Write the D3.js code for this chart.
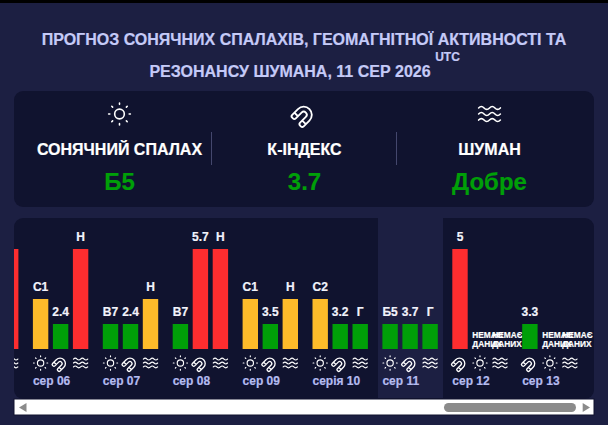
<!DOCTYPE html>
<html><head><meta charset="utf-8">
<script src="https://cdn.jsdelivr.net/npm/d3@7"></script>
<style>
html,body{margin:0;padding:0;background:#1c1f42;overflow:hidden}
svg{display:block}
text{font-family:"Liberation Sans",Arial,sans-serif;font-weight:700;stroke:currentColor;stroke-width:.2px}
</style></head><body>
<svg id="c" width="608" height="425"></svg>
<script>
const titleLines = ["ПРОГНОЗ СОНЯЧНИХ СПАЛАХІВ, ГЕОМАГНІТНОЇ АКТИВНОСТІ ТА", "РЕЗОНАНСУ ШУМАНА, 11 СЕР 2026"];
const utcLabel = "UTC";
const summaryIcons = ["sun", "magnet", "waves"];
const summaryTitles = ["СОНЯЧНИЙ СПАЛАХ", "К-ІНДЕКС", "ШУМАН"];
const summaryValues = ["Б5", "3.7", "Добре"];

const days = ["", "сер 06", "сер 07", "сер 08", "сер 09", "серія 10", "сер 11", "сер 12", "сер 13"];
const slots = ["a", "b", "c"];
const slotIcons = [
  ["sun","magnet","waves"],["sun","magnet","waves"],["sun","magnet","waves"],["sun","magnet","waves"],
  ["sun","magnet","waves"],["sun","magnet","waves"],["sun","magnet","waves"],["magnet","sun","waves"],["magnet","sun","waves"]
];
const slotLabels = [
  ["","",""],["C1","2.4","Н"],["B7","2.4","Н"],["B7","5.7","Н"],
  ["C1","3.5","Н"],["C2","3.2","Г"],["Б5","3.7","Г"],["5",null,null],["3.3",null,null]
];
const slotLevels = [
  [1,1,4],[2,1,4],[1,1,2],[1,4,4],[2,1,2],[2,1,1],[1,1,1],[4,null,null],[1,null,null]
];
const noData = ["НЕМАЄ","ДАНИХ"];

const colors = {bg:"#1c1f42", panel:"#10132f", title:"#c5caf7", day:"#b4bbef", green:"#009f08", yellow:"#fdbb2a", red:"#fd2d2f", sep:"#44476d"};
const levelColor = d3.scaleOrdinal().domain([1,2,4]).range([colors.green, colors.yellow, colors.red]);

const iconPaths = {
  sun:"M8 12a4 4 0 1 0 8 0a4 4 0 1 0 -8 0M3 12h1m8 -9v1m8 8h1m-9 8v1m-6.4 -15.4l.7 .7m12.1 -.7l-.7 .7m0 11.4l.7 .7m-12.1 -.7l-.7 .7",
  magnet:"M4 13v-8a2 2 0 0 1 2 -2h1a2 2 0 0 1 2 2v8a3 3 0 0 0 6 0v-8a2 2 0 0 1 2 -2h1a2 2 0 0 1 2 2v8a8 8 0 0 1 -16 0M4 8l5 0M15 8l5 0",
  waves:"M3 7q2.25 -2.4 4.5 0t4.5 0t4.5 0t4.5 0M3 12q2.25 -2.4 4.5 0t4.5 0t4.5 0t4.5 0M3 17q2.25 -2.4 4.5 0t4.5 0t4.5 0t4.5 0"
};

const svg = d3.select("#c");
svg.append("rect").attr("width",608).attr("height",3).attr("fill","#000");

const title = svg.append("g").attr("text-anchor","middle").attr("fill",colors.title).attr("color",colors.title).attr("font-size",16);
title.selectAll("text").data(titleLines).join("text")
  .attr("x",(d,i)=>i?290:304).attr("y",(d,i)=>44.5+i*32.5).text(d=>d);
svg.append("text").attr("x",447.5).attr("y",60.5).attr("text-anchor","middle").attr("font-size",12).attr("fill",colors.title).attr("color",colors.title).text(utcLabel);

function icon(g, name, cx, cy, size, sw){
  const k = name==="magnet" ? 0.84 : 1;
  const s = size/24*k;
  let tr = `translate(${cx},${cy}) scale(${s}) `;
  if(name==="magnet") tr += "translate(-1.5,1.5) rotate(225) ";
  tr += "translate(-12,-12)";
  g.append("path").attr("d",iconPaths[name]).attr("transform",tr)
    .attr("fill","none").attr("stroke","#fff").attr("stroke-width",(name==="magnet"?sw*1.15:sw)/s)
    .attr("stroke-linecap","round").attr("stroke-linejoin","round");
}

// summary panel
svg.append("rect").attr("x",14).attr("y",91).attr("width",580).attr("height",116).attr("rx",9).attr("fill",colors.panel);
const sx = d3.scalePoint().domain(summaryTitles).range([119.5,489.5]);
summaryTitles.forEach((t,i)=>{
  const x = sx(t);
  const g = svg.append("g");
  icon(g, summaryIcons[i], x, 114, 29, 1.6);
  g.append("text").attr("x",x).attr("y",155).attr("text-anchor","middle").attr("font-size",16).attr("fill","#fff").attr("color","#fff").text(t);
  g.append("text").attr("x",x).attr("y",190).attr("text-anchor","middle").attr("font-size",24).attr("fill",colors.green).attr("color",colors.green).text(summaryValues[i]);
});
svg.selectAll("line.sep").data([211.5,396.5]).join("line").attr("class","sep")
  .attr("x1",d=>d).attr("x2",d=>d).attr("y1",132).attr("y2",165).attr("stroke",colors.sep);

// lower panel
const defs = svg.append("defs");
defs.append("clipPath").attr("id","pc").append("rect").attr("x",14).attr("y",218).attr("width",580).attr("height",200);
const panel = svg.append("g").attr("clip-path","url(#pc)");
panel.append("rect").attr("x",14).attr("y",218).attr("width",580).attr("height",181).attr("rx",9).attr("fill",colors.panel);
panel.append("rect").attr("x",378).attr("y",218).attr("width",65).attr("height",180).attr("fill",colors.bg);

const xDay = d3.scaleBand().domain(d3.range(days.length)).range([-37,592.1]);
const xSlot = d3.scaleBand().domain(slots).range([0,55.4]).paddingInner(0.23).paddingOuter(0);
const y = d3.scaleLinear().domain([0,4]).range([349,249]);

days.forEach((day,i)=>{
  const g = panel.append("g").attr("transform",`translate(${xDay(i)},0)`);
  slots.forEach((s,j)=>{
    const v = slotLevels[i][j], x = xSlot(s), w = xSlot.bandwidth(), cx = x+w/2;
    icon(g, slotIcons[i][j], cx, 363, 19, 1.15);
    if(v===null){
      g.append("g").attr("color","#fff").selectAll("text").data(noData).join("text")
        .attr("x",x).attr("y",(d,k)=>338+k*9.4)
        .attr("font-size",8.3).attr("fill","#fff").text(d=>d);
      return;
    }
    g.append("rect").attr("x",x).attr("width",w).attr("y",y(v)).attr("height",y(0)-y(v)).attr("fill",levelColor(v));
    g.append("text").attr("x",cx).attr("y",y(v)-8).attr("text-anchor","middle").attr("font-size",12).attr("fill","#f2f3fc").attr("color","#f2f3fc").text(slotLabels[i][j]);
  });
  g.append("text").attr("x",0).attr("y",385).attr("font-size",12).attr("fill",colors.day).attr("color",colors.day).text(day);
});

// scrollbar
const sb = svg.append("g");
sb.append("rect").attr("x",14).attr("y",399).attr("width",580).attr("height",16).attr("fill","#fff").attr("stroke",colors.panel).attr("stroke-width",1);
sb.append("path").attr("d",d3.line()([[19,407.5],[26.5,403],[26.5,412]])+"Z").attr("fill","#8b8b8b");
sb.append("path").attr("d",d3.line()([[590,407.5],[582.7,403],[582.7,412]])+"Z").attr("fill","#8b8b8b");
sb.append("rect").attr("x",444).attr("y",403).attr("width",132).attr("height",9).attr("rx",4.5).attr("fill","#8b8b8b");
</script>
</body></html>
